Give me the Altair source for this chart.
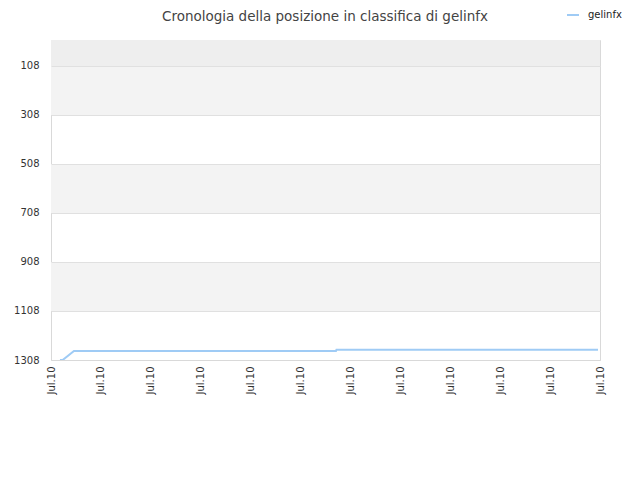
import altair as alt
import pandas as pd

# data
title_text = ["Cronologia della posizione in classifica di gelinfx"]
x_pos = [0.18, 0.24, 0.46, 5.71, 5.72, 10.96]
rank = [1308, 1307, 1271, 1271, 1266, 1266]
series = ["gelinfx"] * len(x_pos)
x_ticks = list(range(12))
x_labels = ["Jul.10"] * 12
y_ticks = [108, 308, 508, 708, 908, 1108, 1308]
band_from = [1108, 708, 308, 108]
band_to = [908, 508, 108, 2]
band_color = ["#f3f3f3", "#f3f3f3", "#f3f3f3", "#eeeeee"]

W, H = 549, 320
df = pd.DataFrame({"x": x_pos, "rank": rank, "series": series})
bands = pd.DataFrame({"y1": band_from, "y2": band_to, "c": band_color})
tdf = pd.DataFrame({"t": title_text})

yscale = alt.Scale(domain=[1308, 2], zero=False, nice=False)
xscale = alt.Scale(domain=[0, 11], nice=False)

label_arr = "[" + ",".join("'%s'" % l for l in x_labels) + "]"

band_layer = alt.Chart(bands).mark_rect().encode(
    x=alt.value(0), x2=alt.value(W),
    y=alt.Y("y1:Q", scale=yscale),
    y2="y2:Q",
    color=alt.Color("c:N", scale=None),
)

line = alt.Chart(df).mark_line(strokeWidth=2).encode(
    x=alt.X("x:Q", scale=xscale, title=None,
            axis=alt.Axis(values=x_ticks, labelExpr=label_arr + "[datum.value]",
                          labelAngle=270, labelAlign="right", labelBaseline="middle",
                          ticks=False, grid=False, labelPadding=6,
                          domainColor="#d9d9d9", labelColor="#333333",
                          labelFont="DejaVu Sans", labelFontSize=10, zindex=1)),
    y=alt.Y("rank:Q", scale=yscale, title=None,
            axis=alt.Axis(values=y_ticks, ticks=False, grid=True, gridColor="#e0e0e0",
                          domain=False, labelPadding=12, labelColor="#333333",
                          format="d",
                          labelFont="DejaVu Sans", labelFontSize=10, zindex=1)),
    color=alt.Color("series:N", scale=alt.Scale(range=["#9fcbf5"]), title=None,
                    legend=alt.Legend(orient="none", legendX=515, legendY=-32,
                                      symbolType="stroke", symbolStrokeWidth=2,
                                      symbolSize=144, labelFont="DejaVu Sans",
                                      labelFontSize=10, labelColor="#222222",
                                      labelOffset=8)),
)

title = alt.Chart(tdf).mark_text(font="DejaVu Sans", fontSize=13.5, color="#444444",
                                 align="center", baseline="top").encode(
    x=alt.value(274), y=alt.value(-30), text="t:N")

chart = alt.layer(band_layer, line, title).properties(
    width=W, height=H,
    autosize=alt.AutoSizeParams(type="none"),
    padding={"left": 43, "top": 32, "right": 30, "bottom": 100},
).configure_view(stroke="#d9d9d9")

chart.save("out.html", embed_options={"renderer": "svg", "actions": False})
